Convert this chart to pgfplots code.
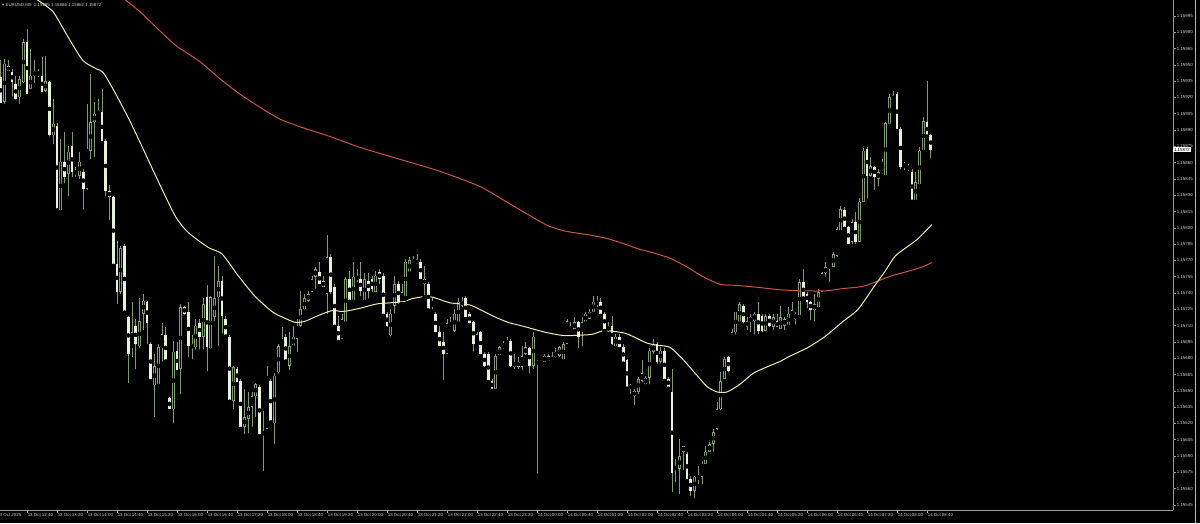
\documentclass[border=0pt]{standalone}
\usepackage{fontspec}
\setmainfont{Liberation Sans}
\newfontfamily\symfont{DejaVu Sans}
\usepackage{pgfplots}
\pgfplotsset{compat=1.18}
\usepackage{pgfplotstable}

\definecolor{wick}{HTML}{7E9C70}
\definecolor{bearfill}{HTML}{E6F3DA}
\definecolor{maslow}{HTML}{C95543}
\definecolor{mafast}{HTML}{F2EBAE}
\definecolor{axisgray}{HTML}{9A9A9A}
\definecolor{labelgray}{HTML}{D0D0D0}

% EURUSD M5, prices as 1.15xxx -> xxx ; i = bar number (5 min) from 13 Oct 12:00
\pgfplotstableread{
i o h l c
1 939 954 913 914
2 916 955 912 951
3 949 954 942 944
4 943 946 919 934
5 932 940 916 919
6 920 940 912 937
7 934 974 931 971
8 971 983 921 923
9 928 965 926 940
10 940 954 931 944
11 943 946 937 941
12 940 957 923 925
13 926 958 923 935
14 934 935 882 885
15 885 919 875 896
16 894 896 816 817
17 816 882 814 861
18 861 888 839 847
19 850 875 827 870
20 875 888 845 851
21 852 856 845 850
22 848 870 843 861
23 851 854 815 836
24 836 914 833 873
25 871 942 861 897
26 897 916 863 905
27 908 919 903 905
28 907 928 878 879
29 880 882 827 834
30 834 839 805 828
31 828 829 765 767
32 767 788 728 741
33 741 783 737 781
34 783 785 722 723
35 718 719 655 684
36 689 732 679 704
37 710 716 668 693
38 691 735 687 714
39 721 739 704 733
40 732 733 691 712
41 693 695 659 661
42 655 684 624 673
43 656 693 654 690
44 689 712 675 702
45 701 709 677 678
46 643 644 631 633
47 633 696 618 686
48 687 695 667 668
49 670 730 645 727
50 727 728 718 721
51 723 732 679 691
52 693 701 677 689
53 690 716 686 710
54 712 716 686 700
55 700 735 686 730
56 736 747 666 690
57 689 737 687 736
58 718 774 712 735
59 736 765 689 751
60 751 756 701 719
61 716 719 700 701
62 700 701 640 641
63 641 673 631 672
64 670 672 656 658
65 659 661 615 617
66 617 652 608 626
67 624 649 609 635
68 635 649 615 645
69 645 657 624 656
70 654 655 608 610
71 610 631 574 612
72 615 673 613 664
73 659 661 621 622
74 620 666 599 664
75 667 693 664 691
76 691 709 690 698
77 700 702 677 678
78 673 704 667 691
79 691 710 690 700
80 698 716 684 710
81 710 742 707 725
82 725 739 723 735
83 733 742 730 739
84 741 756 739 753
85 755 764 742 762
86 759 769 746 748
87 751 756 744 746
88 739 793 719 773
89 773 776 737 741
90 746 748 709 710
91 710 719 695 696
92 698 721 696 716
93 713 755 712 753
94 753 760 732 733
95 733 769 732 755
96 753 762 748 755
97 753 769 735 742
98 733 758 732 753
99 751 758 733 742
100 753 756 739 744
101 741 760 739 756
102 759 762 746 753
103 756 758 719 721
104 721 723 707 710
105 701 725 698 721
106 728 756 719 748
107 748 751 728 732
108 732 748 730 741
109 737 771 735 769
110 759 773 758 770
111 770 774 767 769
112 771 776 765 767
113 769 771 751 753
114 753 765 736 748
115 748 750 724 725
116 727 736 723 733
117 721 723 702 704
118 704 710 689 691
119 695 704 658 684
120 684 716 682 712
121 710 718 707 713
122 705 725 702 721
123 713 735 712 732
124 733 736 725 728
125 735 737 716 718
126 721 723 710 712
127 713 714 684 693
128 691 704 690 702
129 704 705 682 684
130 684 686 670 673
131 684 686 658 659
132 659 661 650 652
133 652 684 650 682
134 682 691 681 690
135 690 696 687 693
136 693 700 691 696
137 696 698 670 673
138 672 684 668 677
139 677 681 668 672
140 672 691 667 682
141 684 695 681 690
142 689 690 664 673
143 673 704 668 700
144 677 678 572 675
145 677 678 673 675
146 677 684 675 682
147 682 684 676 677
148 677 686 676 682
149 681 689 679 686
150 682 691 679 690
151 679 695 677 693
152 693 716 691 714
153 705 713 704 710
154 707 718 705 713
155 713 714 687 700
156 704 718 689 713
157 713 723 712 721
158 716 725 714 723
159 723 737 721 732
160 730 737 725 732
161 732 735 719 721
162 721 723 705 707
163 705 713 702 710
164 710 719 690 693
165 691 702 689 700
166 700 702 688 690
167 690 693 675 677
168 678 679 652 654
169 655 656 645 652
170 650 652 635 645
171 649 663 645 661
172 659 678 656 666
173 656 664 654 662
174 662 689 654 687
175 686 698 682 693
176 693 695 673 677
177 677 690 673 687
178 687 689 659 661
179 661 663 652 654
180 649 670 555 574
181 578 587 564 580
182 578 606 553 590
183 594 599 575 599
184 592 594 567 569
185 569 572 551 558
186 558 572 549 571
187 569 581 562 572
188 571 585 562 583
189 583 599 581 594
190 594 603 592 601
191 601 615 592 612
192 615 640 612 633
193 633 667 630 659
194 661 681 659 679
195 681 682 665 668
196 667 707 665 704
197 704 723 700 723
198 713 732 712 730
199 728 730 710 713
200 709 718 704 714
201 713 721 702 718
202 714 723 700 721
203 721 732 700 705
204 719 721 702 705
205 705 721 703 719
206 719 721 707 710
207 709 721 704 718
208 714 721 707 709
209 707 728 705 718
210 710 718 704 716
211 710 727 709 721
212 719 732 718 724
213 716 723 709 721
214 719 753 718 750
215 750 762 735 736
216 739 741 724 732
217 732 733 713 724
218 724 739 712 730
219 727 744 725 741
220 741 759 739 758
221 758 769 753 764
222 764 767 748 765
223 764 778 762 776
224 774 801 771 799
225 797 820 796 817
226 816 819 799 801
227 801 802 783 785
228 787 808 783 805
229 805 815 783 787
230 787 827 785 824
231 824 873 822 871
232 873 874 825 848
233 848 865 845 857
234 856 857 833 847
235 845 854 836 851
236 850 863 848 861
237 848 897 847 896
238 896 923 894 920
239 920 926 917 919
240 923 925 889 891
241 891 893 852 856
242 856 861 851 859
243 857 859 850 854
244 851 854 824 825
245 825 851 824 842
246 840 874 838 871
247 871 902 870 898
248 897 935 884 885
249 885 886 862 872
}\candles

\begin{document}
\begin{tikzpicture}[x=1pt,y=1pt]
\fill[black] (0,0) rectangle (1200,523);
\draw[axisgray!70, line width=0.6pt] (1195,0) -- (1195,523);
\node[anchor=west, text=labelgray, font=\fontsize{4.4}{5}\selectfont, inner sep=0pt] at (2,518)
  {{\symfont ▾}\ EURUSD,M5\ \ 1.15885 1.15886 1.15862 1.15872};
\begin{axis}[
  at={(0,12)}, anchor=south west,
  scale only axis, width=1173pt, height=511pt,
  xmin=0.8, xmax=313.6, ymin=540.4, ymax=1010.6,
  axis x line*=bottom, axis y line*=right,
  axis line style={axisgray, line width=0.8pt},
  tick style={axisgray, line width=0.6pt},
  tick align=outside, major tick length=3pt,
  clip=false,
  /pgf/number format/assume math mode=true,
  ticklabel style={font=\fontsize{4.4}{5}\selectfont, text=labelgray, inner sep=0.6pt},
  xtick={8,16,...,248},
  xticklabels={13 Oct 12:40,13 Oct 13:20,13 Oct 14:00,13 Oct 14:40,13 Oct 15:20,13 Oct 16:00,
    13 Oct 16:40,13 Oct 17:20,13 Oct 18:00,13 Oct 18:40,13 Oct 19:20,13 Oct 20:00,13 Oct 20:40,
    13 Oct 21:20,13 Oct 22:00,13 Oct 22:40,13 Oct 23:20,14 Oct 00:00,14 Oct 00:40,14 Oct 01:20,
    14 Oct 02:00,14 Oct 02:40,14 Oct 03:20,14 Oct 04:00,14 Oct 04:40,14 Oct 05:20,14 Oct 06:00,
    14 Oct 06:40,14 Oct 07:20,14 Oct 08:00,14 Oct 08:40},
  xticklabel style={anchor=north west},
  extra x ticks={0.8},
  extra x tick labels={13 Oct 2025},
  extra x tick style={tick style={draw=none}, xticklabel style={xshift=-3.5pt}},
  ytick={545,560,...,995},
  yticklabel={1.15\pgfmathprintnumber[fixed,precision=0]{\tick}},
  yticklabel style={anchor=west},
]
% wicks
\addplot[only marks, mark=none, forget plot,
  error bars/.cd, y dir=plus, y explicit, error mark=none,
  error bar style={draw=wick, solid, line width=0.8pt}]
  table[x=i, y=l, y error expr={\thisrow{h}-\thisrow{l}}] {\candles};
% bull bodies: outline, then dark inside
\addplot[only marks, mark=none, forget plot,
  restrict expr to domain={\thisrow{c}-\thisrow{o}}{0:1000},
  error bars/.cd, y dir=both, y explicit, error mark=none,
  error bar style={draw=wick, solid, line width=2.6pt}]
  table[x=i, y expr={(\thisrow{o}+\thisrow{c})/2},
    y error expr={max(abs(\thisrow{c}-\thisrow{o})/2,0.45)}] {\candles};
\addplot[only marks, mark=none, forget plot,
  restrict expr to domain={\thisrow{c}-\thisrow{o}}{0:1000},
  error bars/.cd, y dir=both, y explicit, error mark=none,
  error bar style={draw=black, solid, line width=1.3pt}]
  table[x=i, y expr={(\thisrow{o}+\thisrow{c})/2},
    y error expr={max(abs(\thisrow{c}-\thisrow{o})/2-0.6,0)}] {\candles};
% bear bodies
\addplot[only marks, mark=none, forget plot,
  restrict expr to domain={\thisrow{c}-\thisrow{o}}{-1000:-0.5},
  error bars/.cd, y dir=both, y explicit, error mark=none,
  error bar style={draw=bearfill, solid, line width=2.6pt}]
  table[x=i, y expr={(\thisrow{o}+\thisrow{c})/2},
    y error expr={max(abs(\thisrow{c}-\thisrow{o})/2,0.45)}] {\candles};
% moving averages
\addplot[maslow, line width=1pt, mark=none, smooth, tension=0.4] coordinates {
(33.9,1010.6) (38.1,999) (43.5,981) (48.0,967) (54.1,953) (59.5,937) (64.8,923) (70.1,911)
(75.5,900) (80.8,893) (88.8,884) (96.8,874) (107.5,863) (118.1,852) (128.8,838) (136.8,822)
(142.7,810) (146.9,802) (151.5,797) (158.7,793) (162.9,790) (167.5,785) (170.7,781) (175.0,777)
(179.5,772) (184.0,764) (188.3,755) (192.8,748) (197.3,747) (203.5,745) (208.8,743) (214.7,742)
(220.8,742) (225.3,744) (230.7,746) (234.1,750) (238.7,756) (242.9,760) (246.7,764) (249.3,768)};
\addplot[mafast, line width=1pt, mark=none, smooth, tension=0.4] coordinates {
(10.4,1010.6) (14.9,999) (18.7,977) (22.9,954) (26.7,946) (28.3,943) (30.9,928) (34.9,902)
(38.1,879) (42.7,845) (47.5,811) (50.9,796) (56.3,782) (60.0,776) (64.3,756) (68.8,737)
(73.3,723) (76.0,718) (79.5,713) (82.1,714) (84.8,718) (86.9,721) (89.6,724) (92.3,723)
(96.8,726) (101.3,730) (104.8,731) (108.3,732) (110.9,735) (114.7,737) (117.3,735) (120.8,731)
(126.1,729) (129.3,724) (132.8,718) (136.3,713) (140.8,709) (146.1,704) (150.7,701) (154.1,701)
(158.7,702) (161.3,705) (164.0,705) (167.5,703) (169.6,700) (173.3,694) (176.0,692) (179.5,690)
(182.9,679) (186.7,664) (189.3,654) (192.0,649) (194.7,649) (198.1,656) (201.6,666) (205.3,672)
(208.8,677) (210.9,681) (216.3,690) (220.8,700) (225.3,713) (229.6,725) (234.1,747) (236.8,760)
(239.5,774) (242.9,783) (245.6,790) (249.3,803)};
% current price label
\node[anchor=west, fill=white, text=black, inner sep=0.8pt,
  font=\fontsize{4.4}{5}\selectfont] at (axis cs:313.6,872) {1.15872};
\end{axis}
\pgfresetboundingbox
\path (0,0) rectangle (1200,523);
\end{tikzpicture}
\end{document}
